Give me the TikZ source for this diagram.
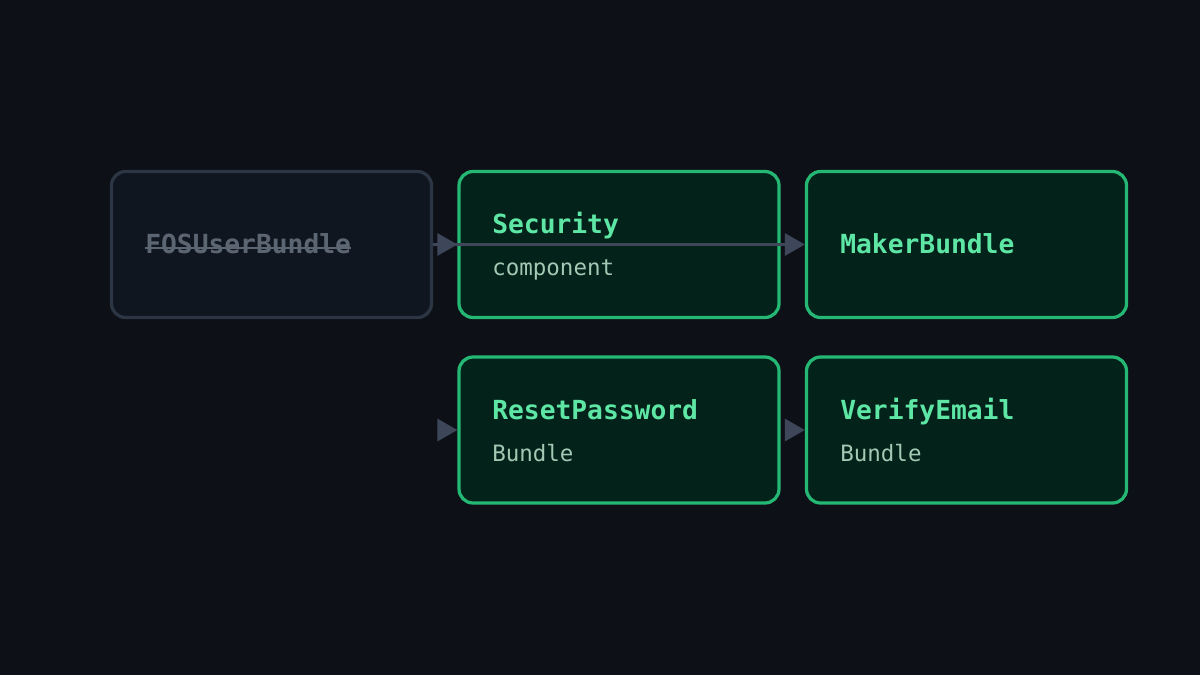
\documentclass[tikz,border=0pt]{standalone}
\usepackage{fontspec}
\setmonofont{DejaVu Sans Mono}
\usepackage{tikz}
\usetikzlibrary{calc,positioning,arrows.meta,backgrounds}

\definecolor{bgcol}{HTML}{0D1117}
\definecolor{oldfill}{HTML}{0F161F}
\definecolor{olddraw}{HTML}{2B3544}
\definecolor{oldtext}{HTML}{5C6572}
\definecolor{newfill}{HTML}{02221A}
\definecolor{newdraw}{HTML}{25B875}
\definecolor{newtitle}{HTML}{5EE6A5}
\definecolor{newsub}{HTML}{A3C9B4}
\definecolor{linkcol}{HTML}{3D4759}

\tikzset{
  box/.style={rectangle, rounded corners=0.35cm, line width=2.3pt,
              minimum width=8.0cm, minimum height=3.65cm, inner sep=0pt},
  oldbox/.style={box, draw=olddraw, fill=oldfill},
  newbox/.style={box, draw=newdraw, fill=newfill},
  title/.style={anchor=base west, inner sep=0pt, text=newtitle,
                font=\ttfamily\bfseries\fontsize{18.7}{22}\selectfont},
  sub/.style={anchor=base west, inner sep=0pt, text=newsub,
              font=\ttfamily\fontsize{16}{19}\selectfont},
  oldtitle/.style={title, text=oldtext},
  link/.style={draw=linkcol, line width=2.2pt,
               -{Triangle[length=0.5cm,width=0.55cm]}},
}

\begin{document}
\begin{tikzpicture}
\fill[bgcol] (0,0) rectangle (30,-16.875);
\useasboundingbox (0,0) rectangle (30,-16.875);

\node[oldbox] (fos)    at (6.7875,-6.1125) {};
\node[newbox] (sec)    at (15.475,-6.1125) {};
\node[newbox] (maker)  at (24.1625,-6.1125) {};
\node[newbox] (reset)  at (15.475,-10.75) {};
\node[newbox] (verify) at (24.1625,-10.75) {};

\node[oldtitle] (fostxt) at (3.625,-6.325) {FOSUserBundle};
\draw[draw=oldtext, line width=1.6pt]
  ([yshift=3.6pt]fostxt.base west) -- ([yshift=3.6pt]fostxt.base east);

\node[title] (sectitle)   at (12.3,-5.825)  {Security};
\node[sub]   (secsub)     at (12.3,-6.875)  {component};
\node[title] (makertitle) at (21.0,-6.325)  {MakerBundle};
\node[title] (resettitle) at (12.3,-10.475) {ResetPassword};
\node[sub]   (resetsub)   at (12.3,-11.525) {Bundle};
\node[title] (veriftitle) at (21.0,-10.475) {VerifyEmail};
\node[sub]   (verifsub)   at (21.0,-11.525) {Bundle};

% connectors
\coordinate (rin) at (10.95,-10.75);
\coordinate (vin) at (19.625,-10.75);
\draw[link] (fos) -- (sec);
\draw[link] (fos.east) -- (maker.west);
\draw[link] (rin) -- (reset);
\draw[link] (vin) -- (verify);
\end{tikzpicture}
\end{document}
